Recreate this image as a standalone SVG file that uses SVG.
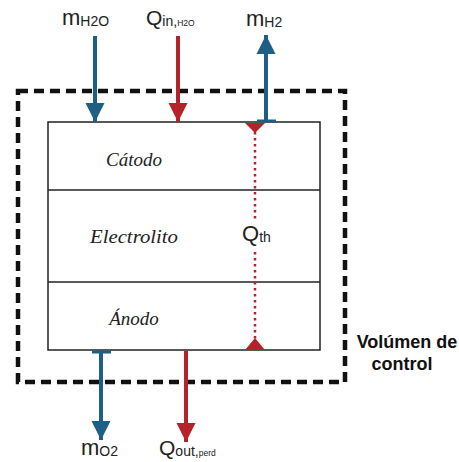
<svg xmlns="http://www.w3.org/2000/svg" width="459" height="462" viewBox="0 0 459 462">
<style>
.lbl{font-family:"Liberation Sans",Arial,sans-serif;fill:#222;font-size:22px}
.q{font-size:21px}
.sub{font-size:14px}
.tiny{font-size:8.5px}
.it{font-family:"Liberation Serif","Times New Roman",serif;font-style:italic;font-size:19px;fill:#222}
.bold{font-family:"Liberation Sans",Arial,sans-serif;font-weight:bold;font-size:18px;fill:#111}
.blue{stroke:#1d5f86;stroke-width:4;fill:none}
.red{stroke:#b5232a;stroke-width:4;fill:none}
</style>
<defs>
<marker id="ab" viewBox="0 0 10 10" refX="10" refY="5" markerWidth="4.8" markerHeight="5" orient="auto" markerUnits="strokeWidth"><path d="M0,0 L10,5 L0,10 z" fill="#1d5f86"/></marker>
<marker id="ar" viewBox="0 0 10 10" refX="10" refY="5" markerWidth="4.8" markerHeight="5" orient="auto" markerUnits="strokeWidth"><path d="M0,0 L10,5 L0,10 z" fill="#b5232a"/></marker>
</defs>
<g id="control-volume">
<rect x="18" y="91" width="327" height="291" fill="none" stroke="#111" stroke-width="4.5" stroke-dasharray="10,6"/>
<text class="bold" x="407" y="348" text-anchor="middle">Volúmen de</text>
<text class="bold" x="402" y="370" text-anchor="middle">control</text>
</g>
<g id="cell">
<rect x="48" y="122" width="272" height="228" fill="#fff" stroke="#222" stroke-width="1.5"/>
<line x1="48" y1="190" x2="320" y2="190" stroke="#222" stroke-width="1.5"/>
<line x1="48" y1="282" x2="320" y2="282" stroke="#222" stroke-width="1.5"/>
</g>
<g id="catodo"><text class="it" x="134" y="166" text-anchor="middle">Cátodo</text></g>
<g id="electrolito"><text class="it" x="134" y="243" text-anchor="middle" textLength="88" lengthAdjust="spacingAndGlyphs">Electrolito</text></g>
<g id="anodo"><text class="it" x="134" y="325" text-anchor="middle">Ánodo</text></g>
<g id="connectors">
<line class="blue" x1="95" y1="36" x2="95" y2="122" marker-end="url(#ab)"/>
<line class="red" x1="178" y1="36" x2="178" y2="122" marker-end="url(#ar)"/>
<line class="blue" x1="266" y1="121" x2="266" y2="35" marker-end="url(#ab)"/>
<line x1="257" y1="121" x2="276" y2="121" stroke="#1d5f86" stroke-width="3"/>
<line x1="255" y1="132" x2="255" y2="340" stroke="#b5232a" stroke-width="2.5" stroke-dasharray="2.5,3.5"/>
<path d="M245,123 L265,123 L255,133 z" fill="#b5232a"/>
<path d="M245,350 L265,350 L255,338 z" fill="#b5232a"/>
<line class="blue" x1="101" y1="351" x2="101" y2="440" marker-end="url(#ab)"/>
<line x1="92" y1="352" x2="111" y2="352" stroke="#1d5f86" stroke-width="3"/>
<line class="red" x1="186" y1="351" x2="186" y2="442" marker-end="url(#ar)"/>
</g>
<g id="labels">
<text class="lbl" x="62" y="25">m<tspan class="sub" dy="1">H2O</tspan></text>
<text class="lbl q" x="146" y="25">Q<tspan class="sub" dy="1">in,</tspan><tspan class="tiny">H2O</tspan></text>
<text class="lbl" x="246" y="26">m<tspan class="sub" dy="1">H2</tspan></text>
<rect x="240" y="222" width="32" height="28" fill="#fff"/>
<text class="lbl" x="242" y="241" font-size="18">Q<tspan class="sub" dy="1">th</tspan></text>
<text class="lbl" x="81" y="455">m<tspan class="sub" dy="1">O2</tspan></text>
<text class="lbl q" x="159" y="455">Q<tspan class="sub" dy="1">out,</tspan><tspan class="tiny">perd</tspan></text>
</g>
</svg>
